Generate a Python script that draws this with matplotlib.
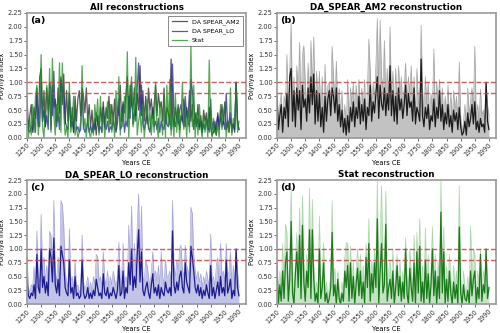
import numpy as np
import matplotlib
matplotlib.use('Agg')
import matplotlib.pyplot as plt

# 5-yearly values
years = np.arange(1250, 2001, 5)

# DA SPEAR_AM2: ensemble mean and upper edge of spread
am2_mean = [0.75, 0.15, 0.4, 0.6, 0.1, 0.55, 0.35, 0.8, 0.2, 1.1,
            1.25, 0.3, 0.85, 0.2, 0.9, 0.5, 0.85, 0.15, 0.95, 0.55,
            0.7, 0.3, 0.9, 0.45, 1.1, 0.6, 1.15, 0.25, 0.85, 0.3,
            0.8, 0.2, 0.55, 0.1, 0.75, 0.3, 0.7, 0.85, 0.4, 0.9,
            0.75, 0.45, 0.9, 0.3, 0.6, 0.2, 0.5, 0.1, 0.35, 0.05,
            0.4, 0.1, 0.55, 0.3, 0.65, 0.2, 0.55, 0.35, 0.75, 0.25,
            0.6, 0.3, 0.7, 0.15, 0.55, 0.4, 0.95, 0.3, 0.65, 0.45,
            0.8, 1.1, 0.35, 0.95, 0.6, 0.5, 0.9, 0.4, 0.8, 0.5,
            1.3, 0.4, 0.85, 0.3, 0.75, 0.25, 0.9, 0.5, 0.7, 0.35,
            0.6, 0.95, 0.4, 0.8, 0.55, 0.65, 0.3, 0.9, 0.25, 0.55,
            0.45, 0.3, 1.42, 0.4, 0.2, 0.55, 0.35, 0.6, 0.15, 0.4,
            0.3, 0.7, 0.2, 0.55, 0.35, 0.85, 0.3, 0.6, 0.15, 0.45,
            0.25, 0.6, 0.2, 0.4, 0.1, 0.5, 0.3, 0.45, 0.15, 0.55,
            0.2, 0.05, 0.1, 0.3, 0.05, 0.45, 0.2, 0.35, 0.6, 0.25,
            0.65, 0.15, 0.3, 0.1, 0.35, 0.2, 0.25, 0.1, 1.0, 0.3,
            0.15]
am2_upper = [0.8, 0.3, 0.6, 0.8, 0.2, 0.75, 0.6, 1.5, 0.4, 1.2,
             2.07, 0.5, 1.1, 0.4, 1.3, 0.8, 1.72, 0.35, 1.5, 1.66,
             1.0, 0.5, 1.35, 0.7, 1.75, 0.9, 1.82, 0.5, 1.2, 0.6,
             1.2, 0.4, 1.1, 0.3, 1.32, 0.5, 0.95, 1.0, 0.6, 1.65,
             1.1, 0.7, 1.38, 0.5, 0.9, 0.4, 0.85, 0.2, 0.6, 0.15,
             1.05, 0.3, 0.9, 0.6, 1.0, 0.4, 0.95, 0.6, 1.05, 0.5,
             0.9, 0.5, 1.05, 0.3, 0.85, 1.78, 1.2, 0.5, 1.0, 0.7,
             1.3, 2.15, 0.8, 2.12, 1.1, 0.9, 1.75, 0.6, 1.25, 0.7,
             2.0, 0.7, 1.2, 0.5, 1.25, 0.45, 1.3, 0.8, 1.1, 0.5,
             0.9, 1.35, 0.6, 1.1, 0.8, 1.3, 0.5, 1.1, 0.4, 1.25,
             0.7, 0.5, 2.03, 0.9, 0.4, 1.1, 0.6, 1.0, 0.3, 0.8,
             0.5, 1.6, 0.4, 1.0, 0.6, 1.05, 0.5, 0.9, 0.3, 0.75,
             0.45, 0.95, 0.35, 0.8, 0.3, 0.85, 0.5, 0.75, 0.3, 1.37,
             0.4, 0.1, 0.3, 0.6, 0.2, 0.9, 0.4, 0.7, 0.9, 0.5,
             1.65, 0.35, 0.6, 0.3, 0.88, 0.4, 0.5, 0.3, 1.0, 0.6,
             0.4]

# DA SPEAR_LO
lo_mean = [0.45, 0.15, 0.1, 0.2, 0.15, 0.35, 0.1, 0.9, 0.3, 0.2,
           1.0, 0.3, 0.5, 0.2, 0.4, 0.15, 1.0, 0.85, 0.4, 1.2,
           0.35, 0.2, 0.45, 0.15, 1.05, 0.9, 0.75, 0.3, 0.2, 0.15,
           0.8, 0.2, 0.3, 0.1, 0.5, 0.15, 0.2, 0.1, 0.15, 0.8,
           0.2, 0.1, 0.15, 0.3, 0.1, 0.2, 0.1, 0.25, 0.15, 0.45,
           0.3, 0.15, 0.2, 0.1, 0.55, 0.2, 0.15, 0.3, 0.1, 0.2,
           0.15, 0.3, 0.2, 0.1, 0.25, 0.7, 0.15, 0.2, 0.6, 0.1,
           0.3, 0.2, 0.75, 0.35, 1.0, 0.25, 0.5, 0.3, 0.9, 1.35,
           0.4, 0.95, 0.25, 0.15, 0.3, 0.4, 0.2, 0.1, 0.35, 0.55,
           0.2, 0.3, 0.15, 0.35, 0.1, 0.3, 0.2, 0.15, 0.4, 0.25,
           0.2, 0.3, 0.15, 1.33, 0.35, 0.2, 0.4, 0.25, 0.5, 0.6,
           0.3, 0.2, 0.75, 0.4, 0.3, 0.2, 1.05, 0.85, 0.6, 0.3,
           0.2, 0.35, 0.15, 0.3, 0.1, 0.25, 0.15, 0.35, 0.2, 0.1,
           0.7, 0.15, 0.3, 0.1, 0.25, 0.4, 0.15, 0.5, 0.2, 0.3,
           0.15, 0.8, 0.2, 0.3, 0.45, 0.1, 0.25, 0.15, 1.0, 0.3,
           0.15]
lo_upper = [0.85, 0.3, 0.2, 0.35, 0.3, 0.68, 0.25, 1.33, 0.5, 0.4,
            1.63, 0.6, 0.85, 0.4, 0.7, 0.3, 1.32, 1.25, 0.6, 1.88,
            0.6, 0.4, 0.85, 0.3, 1.88, 1.8, 1.43, 0.6, 0.4, 0.3,
            1.37, 0.4, 0.5, 0.25, 0.8, 0.3, 0.35, 0.2, 0.3, 1.25,
            0.4, 0.25, 0.35, 0.5, 0.25, 0.4, 0.2, 0.5, 0.35, 0.9,
            0.85, 0.4, 0.5, 0.3, 0.95, 0.45, 0.35, 0.6, 0.3, 0.5,
            0.35, 0.6, 0.45, 0.3, 0.5, 1.12, 0.4, 0.5, 1.1, 0.3,
            0.5, 0.4, 1.43, 0.6, 1.78, 0.5, 1.1, 0.6, 1.4, 2.0,
            0.7, 1.78, 0.5, 0.4, 0.8, 0.7, 0.5, 0.3, 0.6, 0.95,
            0.5, 0.6, 0.4, 0.7, 0.3, 0.95, 0.5, 0.35, 0.8, 0.5,
            0.5, 0.6, 0.4, 1.88, 0.7, 0.5, 0.8, 0.6, 0.99, 1.07,
            0.6, 0.5, 1.07, 0.7, 0.6, 0.5, 1.76, 1.64, 0.9, 0.6,
            0.45, 0.6, 0.4, 0.55, 0.3, 0.5, 0.35, 0.6, 0.45, 0.3,
            1.27, 0.4, 0.5, 0.3, 0.7, 0.84, 0.35, 1.1, 0.5, 0.6,
            0.4, 1.1, 0.5, 0.6, 0.95, 0.3, 0.7, 0.35, 1.0, 0.6,
            0.3]

# Stat
stat_mean = [0.7, 0.0, 0.35, 0.05, 0.6, 0.1, 0.75, 0.95, 0.05, 0.45,
             1.5, 0.2, 0.0, 0.55, 0.95, 0.3, 1.25, 0.1, 1.43, 0.4,
             0.05, 0.6, 0.3, 1.35, 0.1, 1.35, 0.45, 0.05, 0.2, 0.0,
             1.0, 0.1, 0.3, 0.75, 0.05, 0.2, 0.0, 0.1, 0.3, 1.3,
             0.15, 0.35, 0.0, 0.45, 0.1, 0.0, 0.2, 0.05, 0.6, 0.3,
             0.7, 0.05, 0.75, 0.1, 0.5, 0.0, 0.35, 0.65, 0.15, 0.6,
             0.1, 0.4, 0.0, 0.85, 0.3, 1.1, 0.05, 0.55, 0.2, 0.75,
             0.3, 1.55, 0.0, 0.6, 1.1, 0.2, 0.35, 1.45, 0.05, 0.3,
             0.45, 0.1, 0.6, 0.0, 0.3, 0.7, 0.15, 0.5, 0.05, 0.4,
             0.1, 1.0, 0.2, 0.0, 0.65, 0.3, 0.05, 0.75, 0.0, 0.95,
             0.2, 1.05, 0.05, 0.4, 0.0, 0.8, 0.1, 0.55, 0.0, 0.35,
             1.0, 0.15, 0.6, 0.0, 0.5, 0.1, 1.67, 0.2, 0.95, 0.0,
             0.45, 0.05, 0.6, 0.2, 0.0, 0.4, 0.1, 0.35, 0.0, 1.4,
             0.2, 0.0, 0.35, 0.1, 0.05, 0.25, 0.0, 0.6, 0.15, 0.45,
             0.6, 0.0, 0.3, 0.1, 0.9, 0.05, 0.35, 0.2, 1.0, 0.1,
             0.3]
stat_upper = [0.75, 0.1, 0.6, 0.2, 1.1, 0.3, 1.45, 1.3, 0.2, 0.8,
              2.12, 0.5, 0.1, 0.8, 1.3, 0.6, 1.75, 0.3, 1.97, 0.8,
              0.2, 0.9, 0.5, 2.1, 0.3, 1.9, 0.7, 0.2, 0.4, 0.1,
              1.6, 0.3, 0.5, 1.12, 0.2, 0.4, 0.1, 0.3, 0.5, 1.88,
              0.4, 0.65, 0.1, 0.6, 0.3, 0.05, 0.4, 0.2, 0.85, 1.12,
              1.1, 0.2, 1.05, 0.3, 0.8, 0.1, 0.6, 1.0, 0.4, 0.9,
              0.3, 0.7, 0.1, 1.1, 0.5, 1.55, 0.2, 0.8, 0.4, 1.0,
              0.6, 2.25, 0.1, 1.2, 2.15, 0.5, 0.6, 2.05, 0.2, 0.6,
              0.8, 0.3, 1.0, 0.1, 0.6, 0.9, 0.3, 0.8, 0.2, 0.6,
              0.3, 1.2, 0.5, 0.1, 1.0, 0.6, 0.2, 1.25, 0.1, 1.3,
              0.5, 1.55, 0.2, 0.7, 0.1, 1.38, 0.3, 0.9, 0.1, 0.6,
              1.4, 0.4, 0.9, 0.1, 0.8, 0.3, 2.25, 0.5, 1.4, 0.1,
              0.7, 0.2, 0.9, 0.5, 0.1, 0.7, 0.3, 0.6, 0.1, 2.15,
              0.5, 0.05, 0.6, 0.3, 0.2, 0.5, 0.1, 1.42, 0.4, 1.0,
              0.9, 0.1, 0.6, 0.3, 1.0, 0.2, 0.6, 0.4, 1.0, 0.3,
              0.35]

thresholds = [1.0, 0.8]
xtick_pos = list(range(1250, 2001, 50))
xtick_lab = [str(y) for y in range(1250, 1951, 50)] + ['1990']

fig = plt.figure(figsize=(5, 3.33), dpi=100)
ax_a = fig.add_axes([0.054, 0.586, 0.438, 0.375])
ax_b = fig.add_axes([0.554, 0.586, 0.438, 0.375])
ax_c = fig.add_axes([0.054, 0.087, 0.438, 0.372])
ax_d = fig.add_axes([0.554, 0.087, 0.438, 0.372])

fs = 4.8


def style(ax, title, tag):
	for t in thresholds:
		ax.axhline(t, color='#d04040', ls='--', lw=1.0, alpha=0.85, zorder=5)
	ax.set_xlim(1250, 2025)
	ax.set_ylim(0, 2.25)
	ax.set_yticks(np.arange(0, 2.26, 0.25))
	ax.set_yticklabels(['{:.2f}'.format(v) for v in np.arange(0, 2.26, 0.25)])
	ax.set_xticks(xtick_pos)
	ax.set_xticklabels(xtick_lab, rotation=45, ha='right', rotation_mode='anchor')
	ax.tick_params(labelsize=fs, length=2, width=0.5, pad=1, colors='#333333')
	for s in ax.spines.values():
		s.set_color('#999999')
		s.set_linewidth(1.2)
	ax.set_xlabel('Years CE', fontsize=fs, labelpad=1)
	ax.set_ylabel('Polynya index', fontsize=fs, labelpad=2)
	ax.set_title(title, fontsize=6.3, fontweight='bold', pad=2)
	ax.text(0.012, 0.975, tag, transform=ax.transAxes, fontsize=6.8,
			fontweight='bold', va='top', ha='left', zorder=6)


# (a) all three means
ax_a.plot(years, am2_mean, color='#222222', lw=0.9, alpha=0.75, label='DA SPEAR_AM2')
ax_a.plot(years, lo_mean, color='#2020a0', lw=0.9, alpha=0.75, label='DA SPEAR_LO')
ax_a.plot(years, stat_mean, color='#1c8a1c', lw=0.9, alpha=0.75, label='Stat')
style(ax_a, 'All reconstructions', '(a)')
leg = ax_a.legend(loc='upper right', fontsize=4.5, frameon=True, fancybox=False,
				  edgecolor='#555555', handlelength=2.5, borderpad=0.5)
leg.get_frame().set_linewidth(0.6)

# (b)-(d) single reconstructions with spread
panels = [(ax_b, am2_mean, am2_upper, '#1a1a1a', '#9a9a9a', 'DA_SPEAR_AM2 reconstruction', '(b)'),
		  (ax_c, lo_mean, lo_upper, '#1c1c90', '#9c9cd8', 'DA_SPEAR_LO reconstruction', '(c)'),
		  (ax_d, stat_mean, stat_upper, '#1a7a1a', '#9fd29f', 'Stat reconstruction', '(d)')]
for ax, m, u, c_dark, c_light, title, tag in panels:
	ax.fill_between(years, 0, u, color=c_light, alpha=0.6, lw=0)
	ax.plot(years, u, color=c_light, lw=0.5, alpha=0.9)
	ax.plot(years, m, color=c_dark, lw=0.9)
	style(ax, title, tag)

plt.savefig('out.png', dpi=100)
